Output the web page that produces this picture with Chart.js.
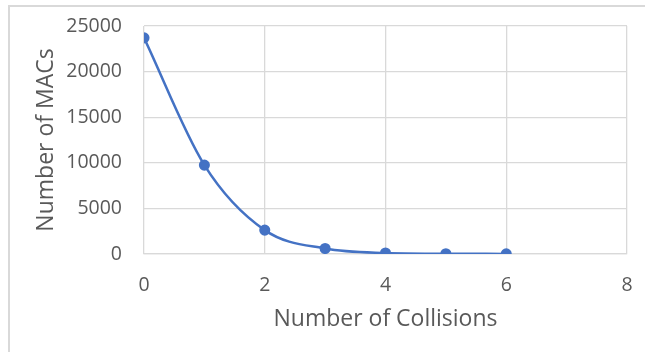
<!DOCTYPE html>
<html>
<head>
<meta charset="utf-8">
<script src="https://cdn.jsdelivr.net/npm/chart.js@4/dist/chart.umd.min.js"></script>
<style>
  html, body { margin: 0; padding: 0; background: #fff; overflow: hidden; }
  #frame {
    position: absolute; left: 8px; top: 5px; width: 700px; height: 400px;
    border-left: 2px solid #d9d9d9; border-top: 2px solid #d9d9d9;
  }
  #wrap { position: absolute; left: 0; top: 0; width: 645px; height: 352px; }
</style>
</head>
<body>
<div id="frame"></div>
<div id="wrap"><canvas id="collisionChart" width="645" height="352"></canvas></div>
<script>
// collisions vs number of MACs
const collisions = [0, 1, 2, 3, 4, 5, 6];
const macs = [23700, 9750, 2620, 600, 110, 30, 10];
const xTicks = [0, 2, 4, 6, 8];
const yTicks = [0, 5000, 10000, 15000, 20000, 25000];

const textColor = '#595959';
const gridColor = '#d9d9d9';
const lineColor = '#4472c4';

const points = collisions.map((c, i) => ({ x: c, y: macs[i] }));

const ctx = document.getElementById('collisionChart').getContext('2d');
new Chart(ctx, {
  type: 'line',
  data: {
    datasets: [
      {
        label: 'MACs',
        data: points,
        borderColor: lineColor,
        backgroundColor: lineColor,
        borderWidth: 2.5,
        pointRadius: 4.3,
        pointHoverRadius: 4.3,
        cubicInterpolationMode: 'monotone',
        fill: false,
      },
    ],
  },
  options: {
    responsive: false,
    animation: false,
    layout: {
      padding: { left: 20, top: 26, right: 18, bottom: 0 },
    },
    scales: {
      x: {
        type: 'linear',
        min: 0,
        max: 8,
        afterBuildTicks: (axis) => {
          axis.ticks = xTicks.map((v) => ({ value: v }));
        },
        // invisible tick marks push the labels down without adding side padding
        grid: { color: gridColor, lineWidth: 1.3, tickLength: 19, tickColor: 'rgba(0,0,0,0)' },
        border: { color: gridColor, width: 1.3 },
        ticks: {
          color: textColor,
          padding: 1,
          font: { family: 'Open Sans', size: 19.5 },
        },
        title: {
          display: true,
          text: 'Number of Collisions',
          color: textColor,
          font: { family: 'Open Sans', size: 23 },
          padding: { top: 4, bottom: 19 },
        },
        afterFit: (scale) => {
          scale.height = 98;
        },
      },
      y: {
        min: 0,
        max: 25000,
        afterBuildTicks: (axis) => {
          axis.ticks = yTicks.map((v) => ({ value: v }));
        },
        grid: { color: gridColor, lineWidth: 1.3, tickLength: 20, tickColor: 'rgba(0,0,0,0)' },
        border: { display: false },
        ticks: {
          color: textColor,
          padding: 2,
          font: { family: 'Open Sans', size: 19.5 },
          callback: (v) => String(v),
        },
        title: {
          display: true,
          text: 'Number of MACs',
          color: textColor,
          font: { family: 'Open Sans', size: 23 },
          padding: { top: 13, bottom: 4 },
        },
        afterFit: (scale) => {
          scale.width = 124;
        },
      },
    },
    plugins: {
      legend: { display: false },
      tooltip: { enabled: false },
    },
  },
});
</script>
</body>
</html>
